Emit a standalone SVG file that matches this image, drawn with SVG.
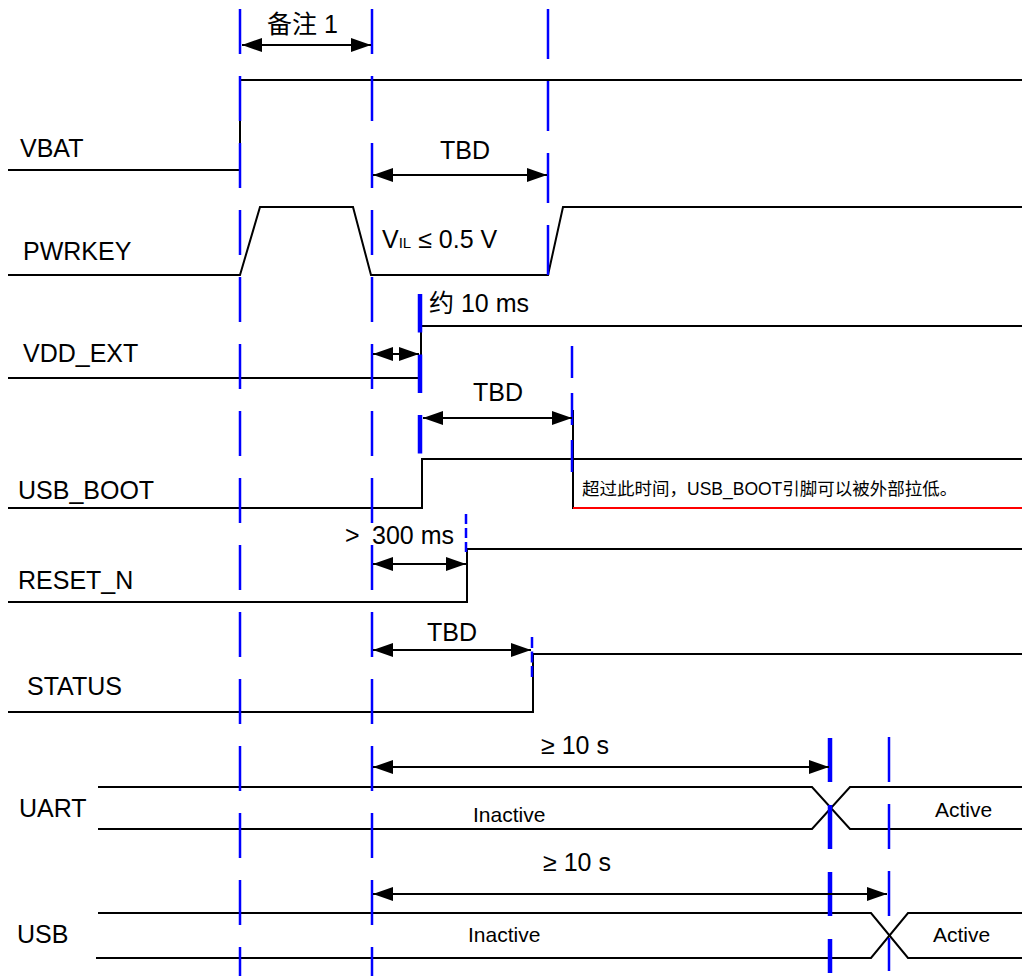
<svg xmlns="http://www.w3.org/2000/svg" width="1022" height="976" viewBox="0 0 1022 976">
<style>
.sig{fill:none;stroke:#000;stroke-width:2}
.red{fill:none;stroke:#ff0000;stroke-width:2}
.g{fill:none;stroke:#0000ff;stroke-width:2.5}
.gt{fill:none;stroke:#0000ff;stroke-width:4.5}
.dim{fill:none;stroke:#000;stroke-width:2;marker-start:url(#ah);marker-end:url(#ah)}
text{font-family:"Liberation Sans","Noto Sans CJK SC",Arial,sans-serif;fill:#000}
.lb{font-size:25px}
.sm{font-size:21px}
.nt{font-size:17.5px}
</style>
<defs>
<marker id="ah" markerUnits="userSpaceOnUse" markerWidth="20" markerHeight="14" refX="20" refY="7" orient="auto-start-reverse" viewBox="0 0 20 14">
<path d="M0,0 L20,7 L0,14 z" fill="#000"/>
</marker>
</defs>
<rect width="1022" height="976" fill="#fff"/>
<g id="VBAT"><polyline class="sig" points="8,170 240,170 240,80 1022,80"/><text class="lb" x="20" y="157">VBAT</text></g>
<g id="PWRKEY"><polyline class="sig" points="8,275 240,275 260,207 353,207 371,275 548,275 563,207 1022,207"/><text class="lb" x="23" y="260">PWRKEY</text>
<text class="lb" x="382" y="248">V<tspan font-size="15">IL</tspan> ≤ 0.5 V</text></g>
<g id="VDD_EXT"><polyline class="sig" points="8,378 421,378 421,326 1022,326"/><text class="lb" x="23" y="362">VDD_EXT</text></g>
<g id="USB_BOOT"><polyline class="sig" points="8,508 422,508 422,459 1022,459"/><line class="sig" x1="573" y1="410" x2="573" y2="509"/><line class="red" x1="573" y1="508" x2="1022" y2="508"/><text class="lb" x="18" y="499">USB_BOOT</text>
<text class="nt" x="582" y="495">超过此时间，USB_BOOT引脚可以被外部拉低。</text></g>
<g id="RESET_N"><polyline class="sig" points="8,602 467,602 467,549 1022,549"/><text class="lb" x="18" y="589">RESET_N</text></g>
<g id="STATUS"><polyline class="sig" points="8,712 533,712 533,654 1022,654"/><text class="lb" x="27" y="695">STATUS</text></g>
<g id="UART"><path class="sig" d="M98,787 H812 L850,829 H1022 M98,829 H812 L850,787 H1022"/><text class="lb" x="19" y="817">UART</text>
<text class="sm" x="473" y="822">Inactive</text><text class="sm" x="935" y="817">Active</text></g>
<g id="USB"><path class="sig" d="M98,913 H871 L908,958 H1022 M96,958 H871 L908,913 H1022"/><text class="lb" x="17" y="943">USB</text>
<text class="sm" x="468" y="942">Inactive</text><text class="sm" x="933" y="942">Active</text></g>
<g id="guides">
<line class="g" x1="240" y1="9" x2="240" y2="976" stroke-dasharray="45 22"/>
<line class="g" x1="372" y1="9" x2="372" y2="976" stroke-dasharray="45 22"/>
<line class="g" x1="548" y1="9" x2="548" y2="275" stroke-dasharray="50 22"/>
<line class="gt" x1="420" y1="294" x2="420" y2="454" stroke-dasharray="38.5 22"/>
<line class="g" x1="572" y1="346" x2="572" y2="472" stroke-dasharray="32 15"/>
<line class="g" x1="466" y1="514" x2="466" y2="552" stroke-dasharray="10 4"/>
<line class="g" x1="532" y1="637" x2="532" y2="678" stroke-dasharray="11 3.5"/>
<line class="gt" x1="830" y1="738" x2="830" y2="973" stroke-dasharray="44 23"/>
<line class="g" x1="889" y1="737" x2="889" y2="971" stroke-dasharray="45 22"/>
</g>
<g id="connectors">
<line class="dim" x1="242" y1="45" x2="371" y2="45"/>
<line class="dim" x1="373" y1="175" x2="547" y2="175"/>
<line class="dim" x1="373" y1="354" x2="419" y2="354"/>
<line class="dim" x1="423" y1="418" x2="572" y2="418"/>
<line class="dim" x1="373" y1="564" x2="466" y2="564"/>
<line class="dim" x1="373" y1="650" x2="531" y2="650"/>
<line class="dim" x1="373" y1="767" x2="829" y2="767"/>
<line class="dim" x1="373" y1="894" x2="887" y2="894"/>
</g>
<g id="labels">
<text class="lb" x="267" y="33">备注 1</text>
<text class="lb" x="440" y="159">TBD</text>
<text class="lb" x="429" y="312">约 10 ms</text>
<text class="lb" x="473" y="401">TBD</text>
<text class="lb" x="345" y="544">&gt;<tspan x="372">300 ms</tspan></text>
<text class="lb" x="427" y="641">TBD</text>
<text class="lb" x="541" y="754">≥ 10 s</text>
<text class="lb" x="543" y="871">≥ 10 s</text>
</g>
</svg>
